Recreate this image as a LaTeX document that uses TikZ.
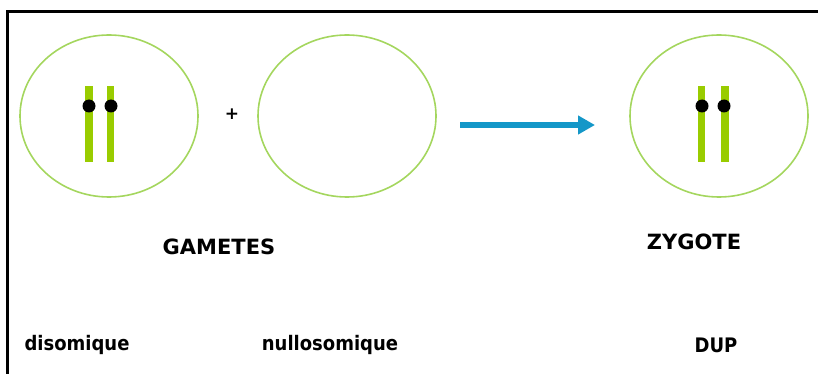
\documentclass[tikz,border=0pt]{standalone}
\usepackage{fontspec}
\setmainfont{DejaVu Sans}
\newfontfamily\labelfont{DejaVu Sans Condensed}
\usetikzlibrary{arrows.meta}
\definecolor{cellgreen}{HTML}{A4D65E}
\definecolor{chromgreen}{HTML}{99CC00}
\definecolor{arrowblue}{HTML}{1497C8}
\tikzset{
  cell/.style={draw=cellgreen, line width=1.6pt},
  chrom/.style={fill=chromgreen, draw=none},
  centro/.style={fill=black, draw=none, circle, minimum size=13pt, inner sep=0pt},
  title/.style={font=\bfseries\fontsize{21}{21}\selectfont, inner sep=0pt},
  caption/.style={font=\labelfont\bfseries\fontsize{20}{20}\selectfont, inner sep=0pt},
}
\begin{document}
\begin{tikzpicture}[x=1pt,y=-1pt]
  \useasboundingbox (0,0) rectangle (818,374);
  \begin{scope}
    \clip (0,0) rectangle (818,374);
    \draw[line width=3pt] (7,12) rectangle (840,400);
  \end{scope}

  % cells
  \draw[cell] (109,116) ellipse [x radius=89, y radius=81];
  \draw[cell] (347,116) ellipse [x radius=89, y radius=81];
  \draw[cell] (719,116) ellipse [x radius=89, y radius=81];

  % disomic gamete chromosomes
  \fill[chrom] (85,86) rectangle (92.5,162);
  \fill[chrom] (106.5,86) rectangle (114,162);
  \node[centro] (c1) at (89,106) {};
  \node[centro] (c2) at (111,106) {};

  % zygote chromosomes
  \fill[chrom] (697.5,86) rectangle (705,162);
  \fill[chrom] (721,86) rectangle (728.5,162);
  \node[centro] (z1) at (702,106) {};
  \node[centro] (z2) at (724,106) {};

  % plus sign
  \node[font=\bfseries\fontsize{17}{17}\selectfont, inner sep=0pt] (plus) at (232,114) {+};

  % arrow
  \coordinate (a1) at (460,125);
  \coordinate (a2) at (595,125);
  \draw[arrowblue, line width=6.5pt, -{Triangle[length=17pt,width=18pt]}] (a1) -- (a2);

  % labels
  \node[title] (gam) at (219,247) {GAMETES};
  \node[title] (zyg) at (694,242) {ZYGOTE};
  \node[caption] (dis) at (77,345) {disomique};
  \node[caption] (nul) at (330,345) {nullosomique};
  \node[caption] (dup) at (716,345) {DUP};
\end{tikzpicture}
\end{document}
